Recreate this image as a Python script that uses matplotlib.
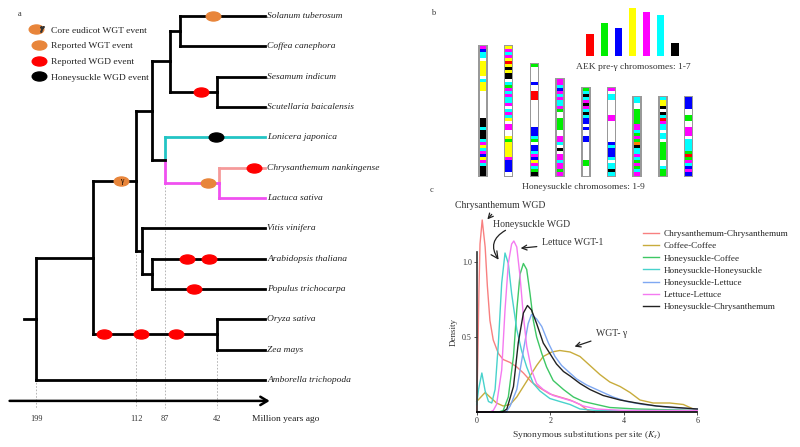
import matplotlib
matplotlib.use('Agg')
import matplotlib.pyplot as plt
from matplotlib.path import Path
from matplotlib.lines import Line2D
from matplotlib.legend_handler import HandlerTuple

plt.rcParams['font.family'] = ['Liberation Serif', 'DejaVu Serif']
plt.rcParams['mathtext.fontset'] = 'stix'

W, H = 800, 447

# ---------------- panel a: tree ----------------
species = ['Solanum tuberosum', 'Coffea canephora', 'Sesamum indicum', 'Scutellaria baicalensis',
           'Lonicera japonica', 'Chrysanthemum nankingense', 'Lactuca sativa', 'Vitis vinifera',
           'Arabidopsis thaliana', 'Populus trichocarpa', 'Oryza sativa', 'Zea mays',
           'Amborella trichopoda']
# (node age in Myr, children); ints are leaf indices
tree = (199, [(150, [(112, [(98, [(83, [(74, [0, 1]), (42, [2, 3])]),
                                  (87, [4, (40, [5, 6])])]),
                            (107, [7, (98, [8, 9])])]),
                     (42, [10, 11])]),
              12])
root_stem_age = 210
time_ticks = [199, 112, 87, 42]

branch_colors = {(4,): '#22c4c4', (5, 6): '#f050f0', (5,): '#f59a9a', (6,): '#f050f0'}
# events on branches: clade -> [(age, kind)]
events = {
    (0,): [(45, 'wgt')],
    (2, 3): [(56, 'wgd')],
    (4,): [(43, 'hs')],
    (5, 6): [(50, 'wgt')],
    (5,): [(10, 'wgd')],
    tuple(range(10)): [(125, 'gamma')],
    (8,): [(68, 'wgd'), (49, 'wgd')],
    (9,): [(62, 'wgd')],
    (10, 11): [(140, 'wgd'), (108, 'wgd'), (77, 'wgd')],
}
event_colors = {'gamma': '#e8853a', 'wgt': '#e8853a', 'wgd': '#ff0000', 'hs': '#000000'}
legend_labels = ['Core eudicot WGT event', 'Reported WGT event', 'Reported WGD event',
                 'Honeysuckle WGD event']

# ---------------- panel b: chromosomes ----------------
aek_colors = ['#ff0000', '#00ee00', '#0000ff', '#ffff00', '#ff00ff', '#00ffff', '#000000']
aek_lengths = [22, 33, 28, 48, 44, 41, 13]
# each letter = one block, listed top to bottom
honeysuckle_chroms = [
    'MBCCWYYYYYWCYYYWWWWWWWWWKKKCKKKCMYCMBYMCKKK',
    'YMCMYRYKYKKWCGMCMCCMWCMCYWMMWWYGYYYYYMBBBBW',
    'GWWWWWBWWRRRWWWWWWWWWBBBCGWBBCMBYMCGK',
    'MMCBMCMCCMGWWGGGGWWMMCWKWMMCMMGM',
    'GCKCMKMCKCBBWBWWBBWWWWWWGGWWW',
    'MWCCWWWWWMMWWWWWWWBCBBBCWCCKC',
    'CCWWGGGGGMMCGMGOKCCMCGMGCM',
    'CYYKWKCRMCCWCCWGGGGGGWWCGG',
    'BBBBWWGGWWMMMWCCCCGRGMCBMB',
]
block_colors = {'R': '#ff0000', 'G': '#00ee00', 'B': '#0000ff', 'Y': '#ffff00', 'M': '#ff00ff',
                'C': '#00ffff', 'K': '#000000', 'W': '#ffffff', 'O': '#ff8000'}

# ---------------- panel c: Ks densities ----------------
chrys_x = [0, 0.03, 0.06, 0.09, 0.15, 0.23, 0.29, 0.36, 0.45, 0.59, 0.72, 0.91, 1.09, 1.27, 1.49,
           1.72, 1.99, 2.26, 2.54, 2.81, 3.03, 3.2]
chrys_y = [0.0, 0.35, 0.80, 1.12, 1.28, 1.10, 0.84, 0.61, 0.48, 0.39, 0.35, 0.33, 0.30, 0.26, 0.20,
           0.16, 0.12, 0.10, 0.08, 0.05, 0.01, 0.0]
coffee_x = [0, 0.23, 0.36, 0.54, 0.72, 0.91, 1.09, 1.27, 1.45, 1.63, 1.81, 2.04, 2.26, 2.54, 2.81,
            3.08, 3.35, 3.62, 3.90, 4.17, 4.44, 4.80, 5.25, 5.62, 5.89, 6.0]
coffee_y = [0.07, 0.13, 0.10, 0.06, 0.04, 0.05, 0.10, 0.17, 0.24, 0.31, 0.37, 0.40, 0.41, 0.40, 0.37,
            0.31, 0.25, 0.20, 0.17, 0.13, 0.08, 0.06, 0.06, 0.05, 0.02, 0.01]
hcof_x = [0, 0.60, 0.72, 0.86, 1.00, 1.09, 1.18, 1.27, 1.36, 1.45, 1.54, 1.63, 1.77, 1.90, 2.08,
          2.36, 2.63, 2.90, 3.26, 3.62, 4.35, 5.2, 6.0]
hcof_y = [0, 0, 0.01, 0.10, 0.37, 0.68, 0.92, 0.99, 0.95, 0.79, 0.61, 0.50, 0.39, 0.30, 0.21,
          0.15, 0.10, 0.07, 0.05, 0.03, 0.02, 0.015, 0.01]
hh_x = [0, 0.05, 0.14, 0.23, 0.32, 0.41, 0.50, 0.59, 0.68, 0.77, 0.86, 0.95, 1.09, 1.22, 1.36,
        1.54, 1.72, 1.99, 2.26, 2.54, 2.81, 3.26, 4.0, 5.0, 6.0]
hh_y = [0.05, 0.15, 0.26, 0.14, 0.07, 0.06, 0.15, 0.46, 0.86, 1.06, 0.99, 0.79, 0.55, 0.41, 0.30,
        0.19, 0.14, 0.09, 0.07, 0.05, 0.02, 0.01, 0.01, 0.01, 0.01]
hlet_x = [0, 0.80, 0.91, 1.09, 1.27, 1.40, 1.49, 1.63, 1.77, 1.95, 2.13, 2.31, 2.49, 2.72, 2.99,
          3.35, 3.71, 4.08, 4.53, 5.25, 6.0]
hlet_y = [0, 0, 0.04, 0.15, 0.41, 0.59, 0.65, 0.62, 0.57, 0.46, 0.37, 0.31, 0.27, 0.22, 0.18,
          0.14, 0.10, 0.07, 0.05, 0.03, 0.02]
let_x = [0, 0.36, 0.45, 0.54, 0.68, 0.77, 0.86, 0.95, 1.01, 1.09, 1.18, 1.27, 1.36, 1.49, 1.63,
         1.81, 2.08, 2.36, 2.63, 2.90, 3.26, 4.0, 5.0, 6.0]
let_y = [0, 0, 0.01, 0.05, 0.28, 0.68, 0.99, 1.12, 1.14, 1.10, 0.90, 0.64, 0.44, 0.28, 0.19,
         0.15, 0.11, 0.09, 0.07, 0.04, 0.02, 0.01, 0.01, 0.01]
hchr_x = [0, 0.70, 0.82, 1.00, 1.13, 1.27, 1.38, 1.49, 1.63, 1.81, 1.99, 2.17, 2.36, 2.54, 2.81,
          3.08, 3.44, 3.90, 4.35, 4.89, 5.43, 6.0]
hchr_y = [0, 0, 0.02, 0.17, 0.46, 0.66, 0.71, 0.68, 0.59, 0.46, 0.39, 0.32, 0.27, 0.24, 0.19,
          0.15, 0.11, 0.08, 0.06, 0.04, 0.03, 0.02]

ks_series = [
    ('Chrysanthemum-Chrysanthemum', chrys_x, chrys_y, '#f88080'),
    ('Coffee-Coffee', coffee_x, coffee_y, '#c8ac3c'),
    ('Honeysuckle-Coffee', hcof_x, hcof_y, '#3ec764'),
    ('Honeysuckle-Honeysuckle', hh_x, hh_y, '#48d2cc'),
    ('Honeysuckle-Lettuce', hlet_x, hlet_y, '#7fa8f2'),
    ('Lettuce-Lettuce', let_x, let_y, '#f47af0'),
    ('Honeysuckle-Chrysanthemum', hchr_x, hchr_y, '#222222'),
]


def fx(px):
    return px / W


def fy(py):
    return 1 - py / H


fig = plt.figure(figsize=(8, 4.47), dpi=100)
txt = '#333333'

# ===== a =====
ax_a = fig.add_axes([0, 0, fx(270), 1])
ax_a.set_xlim(265 / 1.15, -5 / 1.15)
ax_a.set_ylim((H - 16) / 30.33, -16 / 30.33)
ax_a.axis('off')

circ = Path.unit_circle()
ellipse = Path(circ.vertices * [1.0, 0.62], circ.codes)
node_y = {}


def leaves_of(node):
    if isinstance(node, int):
        return (node,)
    out = ()
    for c in node[1]:
        out += leaves_of(c)
    return out


def draw(node, parent_age):
    key = leaves_of(node)
    col = branch_colors.get(key, 'black')
    if isinstance(node, int):
        age, y = 0, node
        ax_a.text(-2, y, species[node], fontsize=6.8, style='italic', color='#222222',
                  ha='left', va='center')
    else:
        age = node[0]
        kids = [(draw(c, age), branch_colors.get(leaves_of(c), 'black')) for c in node[1]]
        y = (kids[0][0] + kids[-1][0]) / 2
        for cy, ccol in kids:
            ax_a.plot([age, age], [y, cy], color=ccol, lw=2, solid_capstyle='projecting', zorder=3)
        node_y[age] = max(node_y.get(age, y), y)
    ax_a.plot([parent_age, age], [y, y], color=col, lw=2, solid_capstyle='projecting', zorder=3)
    for ev_age, kind in events.get(key, []):
        ax_a.plot(ev_age, y, marker=ellipse, ms=10.5, color=event_colors[kind], ls='none', zorder=5)
        if kind == 'gamma':
            ax_a.text(ev_age, y, 'γ', fontsize=5.5, ha='center', va='center', zorder=6)
    return y


draw(tree, root_stem_age)

axis_y = 12.69
for t in time_ticks:
    ax_a.plot([t, t], [node_y[t], 12.92], color='#aaaaaa', lw=0.6, ls=(0, (2, 2)), zorder=1)
    ax_a.text(t, 13.3, str(t), fontsize=6, color=txt, ha='center', va='center')
ax_a.annotate('', xy=(-6.5, axis_y), xytext=(224.5, axis_y), annotation_clip=False,
              arrowprops=dict(arrowstyle='->,head_length=0.5,head_width=0.3', lw=1.8, color='black'))
ax_a.text(11.5, 13.3, 'Million years ago', fontsize=6.8, color='#222222', ha='left', va='center')

kinds = ['gamma', 'wgt', 'wgd', 'hs']
handles = []
for k in kinds:
    h = Line2D([], [], marker=ellipse, ms=10.5, color=event_colors[k], ls='none')
    if k == 'gamma':
        h = (h, Line2D([], [], marker='$\\gamma$', ms=4, color='#333333', ls='none'))
    handles.append(h)
ax_a.legend(handles, legend_labels, loc='upper left', bbox_to_anchor=(fx(33), fy(26)),
            bbox_transform=fig.transFigure, frameon=False, fontsize=6.8, handlelength=1.2,
            handletextpad=0.7, labelspacing=0.75, borderpad=0, borderaxespad=0,
            handler_map={tuple: HandlerTuple(ndivide=None)}, labelcolor='#222222')
fig.text(fx(20), fy(14), 'a', fontsize=6, color=txt, ha='center', va='center')

# ===== b =====
ax_b = fig.add_axes([fx(460), fy(190), fx(260), 190 / H])
ax_b.set_xlim(1 + (460 - 483) / 25.7, 1 + (720 - 483) / 25.7)
ax_b.set_ylim(-(190 - 175.5) / 3, 175.5 / 3)
ax_b.axis('off')
for i, chrom in enumerate(honeysuckle_chroms, 1):
    n = len(chrom)
    ax_b.bar(i, n + 0.8, bottom=-0.4, width=0.37, color='#999999', linewidth=0)
    ax_b.bar(i, n, bottom=0, width=0.25, color='white', linewidth=0)
    ax_b.bar([i] * n, 1.02, bottom=[n - 1 - j for j in range(n)], width=0.25,
             color=[block_colors[c] for c in chrom], linewidth=0)

ax_k = fig.add_axes([fx(580.1), fy(56), fx(104.8), 50 / H])
ax_k.bar(range(1, 8), aek_lengths, width=0.5, color=aek_colors, linewidth=0)
ax_k.set_xlim(0.3, 7.7)
ax_k.set_ylim(0, 50)
ax_k.axis('off')
fig.text(fx(633), fy(67), 'AEK pre-γ chromosomes: 1-7', fontsize=6.8, color=txt, ha='center', va='center')
fig.text(fx(583), fy(187), 'Honeysuckle chromosomes: 1-9', fontsize=6.8, color=txt, ha='center', va='center')
fig.text(fx(433), fy(13), 'b', fontsize=6, color=txt, ha='center', va='center')

# ===== c =====
ax_c = fig.add_axes([fx(476.7), fy(412), fx(220.6), (412 - 251.5) / H])
for name, xs, ys, c in ks_series:
    ax_c.plot(xs, ys, color=c, lw=1.0, label=name, clip_on=False)
ax_c.set_xlim(0, 6)
ax_c.set_ylim(0, 1.07)
ax_c.set_xticks([0, 2, 4, 6])
ax_c.set_yticks([0.5, 1.0])
ax_c.set_yticklabels(['0.5', '1.0'])
for s in ['top', 'right']:
    ax_c.spines[s].set_visible(False)
ax_c.spines['left'].set_color('#333333')
ax_c.spines['left'].set_linewidth(1.2)
ax_c.spines['bottom'].set_linewidth(1.2)
ax_c.tick_params(length=2, width=0.6, labelsize=5.8, pad=1.5, colors=txt)
ax_c.set_xlabel('Synonymous substitutions per site ($K_s$)', fontsize=6.8, color=txt, labelpad=3)
ax_c.set_ylabel('Density', fontsize=6.5, color=txt, labelpad=3)

arr = dict(arrowstyle='->,head_length=0.5,head_width=0.25', lw=0.9, color='#222222')
ax_c.annotate('Chrysanthemum WGD', xy=(0.24, 1.27), xytext=(0.63, 1.38), fontsize=7, color=txt,
              ha='center', va='center', arrowprops=arr, annotation_clip=False)
ax_c.text(1.5, 1.25, 'Honeysuckle WGD', fontsize=7, color=txt, ha='center', va='center')
ax_c.annotate('', xy=(0.64, 1.0), xytext=(0.85, 1.22), annotation_clip=False,
              arrowprops=dict(arr, connectionstyle='arc3,rad=0.6'))
ax_c.annotate('Lettuce WGT-1', xy=(1.12, 1.09), xytext=(2.62, 1.127), fontsize=7, color=txt,
              ha='center', va='center', arrowprops=arr, annotation_clip=False)
ax_c.annotate('WGT- γ', xy=(2.59, 0.43), xytext=(3.68, 0.52), fontsize=7, color=txt,
              ha='center', va='center', arrowprops=arr, annotation_clip=False)
ax_c.legend(loc='upper left', bbox_to_anchor=(fx(643), fy(230)), bbox_transform=fig.transFigure,
            frameon=False, fontsize=6.6, handlelength=1.7, handletextpad=0.55, labelspacing=0.4,
            borderpad=0, borderaxespad=0, labelcolor='#222222')
fig.text(fx(432), fy(190), 'c', fontsize=6, color=txt, ha='center', va='center')

fig.savefig('out.png', dpi=100)
